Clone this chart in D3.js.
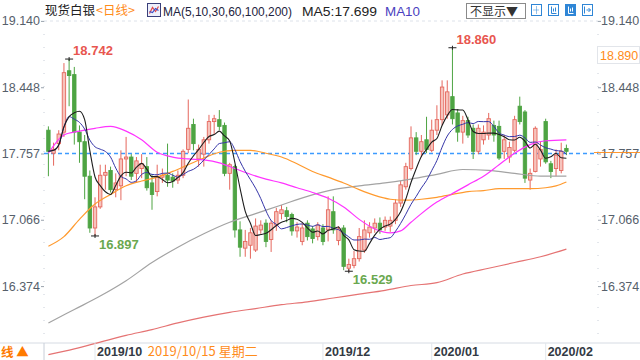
<!DOCTYPE html>
<html><head><meta charset="utf-8">
<script src="https://cdn.jsdelivr.net/npm/d3@7/dist/d3.min.js"></script>
<style>body{margin:0;background:#fff}svg{display:block}</style>
</head><body>
<svg id="c" width="640" height="360"></svg>
<script>
// ---------- data ----------
const firstDay = "2019-09-18", lastDay = "2020-02-07";
const holidays = ["2019-12-25", "2020-01-01"];
const opens  = [18.00,17.76,17.86,17.98,18.62,18.58,17.98,17.88,17.52,16.98,17.20,17.53,17.58,17.38,17.42,17.70,17.72,17.55,17.60,17.62,17.45,17.36,17.51,17.53,17.51,17.48,17.53,17.80,18.06,17.70,17.75,17.90,18.09,18.11,18.05,17.55,17.62,16.96,16.77,16.80,16.75,16.96,17.03,16.86,17.01,17.13,17.16,17.12,16.95,16.84,17.03,16.97,16.89,16.98,16.96,17.15,16.85,16.98,16.56,16.59,16.66,16.75,16.93,16.98,17.03,16.99,17.00,17.06,17.24,17.41,17.60,17.92,17.78,17.90,17.79,18.00,18.11,18.16,18.35,18.18,17.98,18.10,18.02,17.78,17.90,17.95,18.05,18.04,17.78,17.72,17.79,18.25,18.19,17.48,17.57,17.70,18.09,17.65,17.60,17.58,17.81];
const highs  = [18.04,17.87,18.00,18.70,18.742,18.66,18.05,17.95,17.58,17.30,17.64,17.64,17.62,17.55,17.79,17.93,17.75,17.72,17.75,17.72,17.54,17.64,17.60,17.86,17.55,17.58,17.80,18.32,18.12,17.85,17.93,18.16,18.16,18.21,18.08,17.66,17.64,17.05,16.96,16.98,17.08,17.06,17.07,17.06,17.19,17.22,17.20,17.14,17.04,17.03,17.06,17.00,17.04,17.02,17.31,17.31,17.00,17.01,16.66,16.74,16.98,17.06,17.04,17.08,17.09,17.10,17.10,17.28,17.47,17.66,18.04,17.98,17.95,18.14,18.11,18.26,18.52,18.52,18.86,18.22,18.15,18.14,18.06,18.06,18.05,18.18,18.10,18.10,17.95,17.88,18.15,18.35,18.21,17.60,18.04,17.88,18.12,17.68,17.80,17.87,17.85];
const lows   = [17.52,17.63,17.79,17.93,18.25,17.85,17.66,17.28,16.93,16.897,17.18,17.38,17.35,17.30,17.27,17.52,17.48,17.45,17.50,17.37,17.17,17.31,17.45,17.41,17.40,17.44,17.50,17.76,17.79,17.62,17.62,17.86,17.96,18.00,17.52,17.38,16.88,16.68,16.68,16.66,16.73,16.92,16.78,16.73,16.95,17.07,17.04,16.90,16.88,16.80,16.85,16.82,16.85,16.80,16.84,16.92,16.80,16.54,16.529,16.56,16.63,16.72,16.88,16.93,16.92,16.95,16.94,17.02,17.20,17.38,17.58,17.74,17.72,17.76,17.77,17.95,18.05,18.12,18.06,17.88,17.86,17.92,17.70,17.75,17.85,17.90,17.88,17.69,17.70,17.66,17.77,18.06,17.45,17.38,17.56,17.62,17.65,17.50,17.52,17.55,17.74];
const closes = [17.78,17.80,17.96,18.60,18.57,17.98,17.88,17.52,16.98,17.20,17.53,17.56,17.38,17.45,17.70,17.72,17.52,17.68,17.65,17.40,17.33,17.52,17.53,17.48,17.47,17.53,17.78,18.02,17.86,17.80,17.90,18.09,18.12,18.04,17.55,17.64,16.96,16.78,16.84,16.93,17.00,17.01,16.84,17.03,17.15,17.17,17.10,16.95,16.99,16.98,16.89,16.87,17.01,16.84,17.17,16.96,16.97,16.58,16.60,16.66,16.89,16.96,16.99,17.03,16.96,17.06,17.06,17.24,17.43,17.62,17.92,17.78,17.88,17.80,18.00,18.11,18.45,18.40,18.12,17.98,18.10,17.95,17.78,18.02,17.98,18.12,17.95,17.71,17.90,17.82,18.11,18.09,17.50,17.55,18.02,17.80,17.67,17.57,17.74,17.78,17.78];

// long moving averages (candle index -> value)
const ma30Idx = [0,3,6,9,12,15,18,21,24,27,30,33,36,39,42,45,48,51,54,57,60,63,66,68,70,72,75,78,81,84,87,90,93,96,100];
const ma30    = [17.76,17.95,17.99,18.02,18.04,17.99,17.90,17.77,17.72,17.70,17.69,17.66,17.60,17.54,17.49,17.45,17.40,17.35,17.29,17.20,17.07,16.97,16.93,16.95,17.04,17.13,17.25,17.34,17.43,17.52,17.64,17.76,17.85,17.89,17.90];
const ma60Idx = [0,3,6,9,12,15,18,21,24,27,30,33,36,39,42,45,48,51,54,57,60,63,66,69,72,75,78,81,84,87,90,93,96,98,100];
const ma60    = [16.79,16.89,17.07,17.23,17.33,17.42,17.47,17.51,17.57,17.64,17.71,17.77,17.79,17.79,17.76,17.72,17.65,17.57,17.51,17.45,17.38,17.32,17.28,17.27,17.28,17.30,17.33,17.36,17.37,17.39,17.39,17.39,17.40,17.42,17.46];
const ma100Idx = [0,5,10,15,20,25,30,35,40,45,50,55,60,65,70,75,80,85,90,95,100];
const ma100    = [15.99,16.13,16.27,16.43,16.62,16.78,16.92,17.04,17.13,17.22,17.31,17.38,17.42,17.45,17.49,17.54,17.59,17.58,17.55,17.52,17.52];
const ma200Idx = [0,5,10,15,20,25,30,35,40,45,50,55,60,65,70,75,80,85,90,95,100];
const ma200    = [15.66,15.72,15.79,15.86,15.92,15.99,16.05,16.10,16.14,16.18,16.21,16.25,16.29,16.33,16.38,16.41,16.50,16.56,16.62,16.68,16.76];

const yTicks = [19.140, 18.448, 17.757, 17.066, 16.374];
const lastPrice = 17.757;
const cursorPrice = "18.890";
const monthTickDates  = ["2019-10-01", "2019-12-02", "2020-01-02", "2020-02-03"];
const monthTickLabels = ["2019/10", "2019/12", "2020/01", "2020/02"];
const cursorDate = "2019-10-15", cursorLabel = "2019/10/15 星期二";
const markRanges = [[0, 30], [31, 100]];
const legendTitle = "现货白银", legendPeriod = "<日线>";
const legendMA = "MA(5,10,30,60,100,200)", legendMA5 = "MA5:17.699", legendMA10 = "MA10";
const periodTag = "线 ▲";

// ---------- build ----------
const dates = [];
for (let d = new Date(firstDay + "T00:00:00Z"); d <= new Date(lastDay + "T00:00:00Z"); d.setUTCDate(d.getUTCDate() + 1)) {
  const wd = d.getUTCDay(), s = d.toISOString().slice(0, 10);
  if (wd !== 0 && wd !== 6 && !holidays.includes(s)) dates.push(s);
}
const candles = dates.map((d, i) => ({d, i, o: opens[i], h: highs[i], l: lows[i], c: closes[i]}));

const svg = d3.select("#c");
const L = 44, R = 598, T = 21, B = 343;
const x = d3.scalePoint().domain(dates).range([48.4, 566.4]);
const y = d3.scaleLinear().domain([16.374, 19.140]).range([286.1, 20.9]);
const FONT = "'Liberation Sans', Arial, sans-serif";
const CJK = "'Noto Sans CJK SC', 'Liberation Sans', sans-serif";

// frame lines
svg.append("line").attr("x1", L).attr("x2", R).attr("y1", T).attr("y2", T)
  .attr("stroke", "#dde2ea").attr("stroke-dasharray", "3,3");
svg.append("line").attr("x1", 0).attr("x2", 640).attr("y1", B).attr("y2", B).attr("stroke", "#d6dbe3");
svg.append("line").attr("x1", L).attr("x2", L).attr("y1", T).attr("y2", B)
  .attr("stroke", "#c8ced8").attr("stroke-dasharray", "1,12");
svg.append("line").attr("x1", L).attr("x2", L).attr("y1", B).attr("y2", 360).attr("stroke", "#c8ced8");
svg.append("line").attr("x1", R).attr("x2", R).attr("y1", T).attr("y2", B)
  .attr("stroke", "#c8ced8").attr("stroke-dasharray", "1,12");

// axes
const axL = svg.append("g").attr("transform", `translate(${L},0)`)
  .call(d3.axisLeft(y).tickValues(yTicks).tickFormat(d3.format(".3f")).tickSize(3).tickPadding(1));
const axR = svg.append("g").attr("transform", `translate(${R},0)`)
  .call(d3.axisRight(y).tickValues(yTicks).tickFormat(d3.format(".3f")).tickSize(3).tickPadding(0));
[axL, axR].forEach(g => {
  g.select(".domain").remove();
  g.selectAll(".tick line").attr("stroke", "#9aa3ad");
  g.selectAll(".tick text").attr("fill", "#56606b").style("font", `12.5px ${FONT}`);
});

// last price dashed line
svg.append("line").attr("x1", L).attr("x2", R).attr("y1", y(lastPrice)).attr("y2", y(lastPrice))
  .attr("stroke", "#3d9bff").attr("stroke-width", 1.3).attr("stroke-dasharray", "4,3");
svg.append("line").attr("x1", R - 4).attr("x2", 640).attr("y1", y(lastPrice) - 1).attr("y2", y(lastPrice) - 1)
  .attr("stroke", "#ff8c1a").attr("stroke-width", 1.2).attr("opacity", 0.9);

// candles
const up = "#e5675d", upFill = "#f6c4bd", dn = "#4ea443";
const cg = svg.append("g");
cg.selectAll("line").data(candles).join("line")
  .attr("x1", d => x(d.d)).attr("x2", d => x(d.d))
  .attr("y1", d => y(d.h)).attr("y2", d => y(d.l))
  .attr("stroke", d => d.c >= d.o ? up : dn).attr("stroke-width", 1);
cg.selectAll("rect").data(candles).join("rect")
  .attr("x", d => x(d.d) - 1.7).attr("width", 3.4)
  .attr("y", d => y(Math.max(d.o, d.c)))
  .attr("height", d => Math.max(1, Math.abs(y(d.o) - y(d.c))))
  .attr("fill", d => d.c >= d.o ? upFill : dn)
  .attr("stroke", d => d.c >= d.o ? up : dn).attr("stroke-width", 0.9);

// moving averages
function maCalc(n) { return closes.map((c, i) => d3.mean(closes.slice(Math.max(0, i - n + 1), i + 1))); }
const smooth = d3.line().x(p => x(dates[p[0]])).y(p => y(p[1])).curve(d3.curveMonotoneX);
const sampled = (idx, vals) => idx.map((k, j) => [k, vals[j]]);
const series = [
  {pts: sampled(ma200Idx, ma200), color: "#e57373", w: 1.2},
  {pts: sampled(ma100Idx, ma100), color: "#a3a3a3", w: 1.2},
  {pts: sampled(ma60Idx, ma60), color: "#ff9a2e", w: 1.2},
  {pts: sampled(ma30Idx, ma30), color: "#ff33ff", w: 1.2},
  {pts: maCalc(10).map((v, i) => [i, v]), color: "#3535a8", w: 1},
  {pts: maCalc(5).map((v, i) => [i, v]), color: "#1e1e1e", w: 1.1}
];
svg.append("g").selectAll("path").data(series).join("path")
  .attr("d", s => smooth(s.pts)).attr("fill", "none")
  .attr("stroke", s => s.color).attr("stroke-width", s => s.w);

// high / low markers
markRanges.forEach(([a, b]) => {
  const seg = candles.slice(a, b + 1);
  const hi = seg[d3.maxIndex(seg, d => d.h)], lo = seg[d3.minIndex(seg, d => d.l)];
  [[hi, hi.h, "#e8564f", -4], [lo, lo.l, "#6aa84f", 13]].forEach(([cd, v, col, dy]) => {
    const cx = x(cd.d), cy = y(v);
    svg.append("line").attr("x1", cx - 4).attr("x2", cx + 4).attr("y1", cy).attr("y2", cy).attr("stroke", "#222");
    svg.append("line").attr("x1", cx).attr("x2", cx).attr("y1", cy - 2).attr("y2", cy + 2).attr("stroke", "#222");
    svg.append("text").attr("x", cx + 4).attr("y", cy + dy).text(d3.format(".3f")(v))
      .attr("fill", col).style("font", `bold 13px ${FONT}`);
  });
});

// cursor price label
svg.append("rect").attr("x", 597.5).attr("y", 46.5).attr("width", 42).attr("height", 17)
  .attr("fill", "#fff").attr("stroke", "#e2e5ea");
svg.append("text").attr("x", 600).attr("y", 59.5).text(cursorPrice).attr("fill", "#ff8c1a").style("font", `12.5px ${FONT}`);

// x axis labels
monthTickDates.forEach((d, k) => {
  const px = x(d);
  svg.append("line").attr("x1", px).attr("x2", px).attr("y1", B).attr("y2", 360).attr("stroke", "#e3e7ec");
  svg.append("text").attr("x", px + 2).attr("y", 356).text(monthTickLabels[k])
    .attr("fill", "#333a44").style("font", `bold 12.5px ${FONT}`);
});
svg.append("text").attr("x", x(cursorDate) + 1).attr("y", 356).text(cursorLabel)
  .attr("fill", "#ff8c1a").style("font", `13px ${CJK}`);

// bottom-left period box
svg.append("text").attr("x", 1).attr("y", 357).text(periodTag).attr("fill", "#ff7a00")
  .style("font", `bold 12.5px ${CJK}`);

// legend
svg.append("text").attr("x", 45).attr("y", 15).text(legendTitle).attr("fill", "#222").style("font", `12.5px ${CJK}`);
svg.append("text").attr("x", 96).attr("y", 15).text(legendPeriod).attr("fill", "#ff8c1a").style("font", `12.5px ${CJK}`);
const ic = svg.append("g").attr("transform", "translate(147.5,3.5)");
ic.append("rect").attr("width", 13).attr("height", 13).attr("fill", "#eef0fb").attr("stroke", "#3a3f7a");
ic.append("polyline").attr("points", "2,10 5,4 8,8 11,3").attr("fill", "none").attr("stroke", "#e04848").attr("stroke-width", 1.2);
ic.append("polyline").attr("points", "2,8 5,9 8,5 11,7").attr("fill", "none").attr("stroke", "#3a50c8").attr("stroke-width", 1.2);
svg.append("text").attr("x", 163).attr("y", 15.5).text(legendMA).attr("fill", "#1d2340")
  .attr("textLength", 129).attr("lengthAdjust", "spacingAndGlyphs").style("font", `13px ${FONT}`);
svg.append("text").attr("x", 302).attr("y", 15.5).text(legendMA5).attr("fill", "#222")
  .attr("textLength", 75).attr("lengthAdjust", "spacingAndGlyphs").style("font", `13px ${FONT}`);
svg.append("text").attr("x", 385).attr("y", 15.5).text(legendMA10).attr("fill", "#4a3fc0")
  .attr("textLength", 35).attr("lengthAdjust", "spacingAndGlyphs").style("font", `13px ${FONT}`);

// toolbar
svg.append("rect").attr("x", 466.5).attr("y", 3.5).attr("width", 59).attr("height", 15).attr("fill", "#fff").attr("stroke", "#8a8a8a");
svg.append("text").attr("x", 470).attr("y", 15.5).text("不显示▼").attr("fill", "#333").style("font", `12px ${CJK}`);
const icons = [531.5, 548.5, 565.5, 582.5];
icons.forEach((ix, k) => {
  const g = svg.append("g").attr("transform", `translate(${ix},4.5)`);
  g.append("rect").attr("width", 10).attr("height", 11).attr("fill", k === 2 ? "#2f86d6" : "#fff").attr("stroke", "#2f86d6");
  const col = k === 2 ? "#fff" : "#2f86d6";
  if (k === 0) {
    g.append("line").attr("x1", 5).attr("x2", 5).attr("y1", 2).attr("y2", 9).attr("stroke", col).attr("stroke-dasharray", "1,1");
    g.append("line").attr("x1", 2).attr("x2", 8).attr("y1", 5.5).attr("y2", 5.5).attr("stroke", col).attr("stroke-dasharray", "1,1");
  } else if (k === 3) {
    g.append("line").attr("x1", 2).attr("x2", 2).attr("y1", 2).attr("y2", 9).attr("stroke", col);
    g.append("path").attr("d", "M4,5.5H8M6,3.5L8,5.5L6,7.5").attr("fill", "none").attr("stroke", col);
  } else {
    g.append("path").attr("d", "M3,2V9H8M5,4V7M7,3V7").attr("fill", "none").attr("stroke", col);
  }
});
</script>
</body></html>
